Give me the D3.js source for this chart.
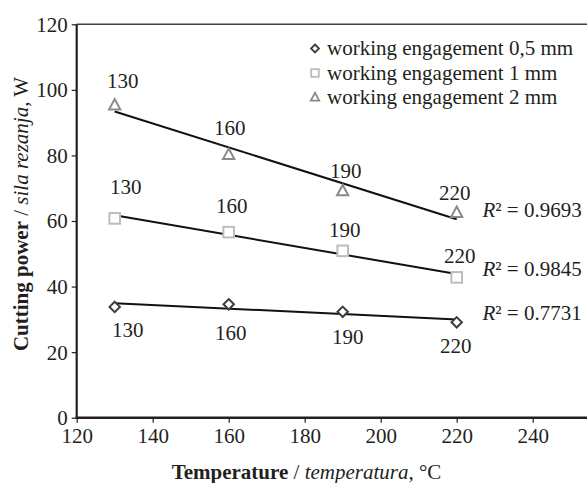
<!DOCTYPE html>
<html>
<head>
<meta charset="utf-8">
<script src="https://cdn.jsdelivr.net/npm/d3@7"></script>
<style>
  html, body { margin: 0; padding: 0; background: #fff; }
  svg { display: block; }
  text { font-family: "Liberation Serif", "Times New Roman", serif; fill: #231f20; }
</style>
</head>
<body>
<svg id="chart" width="587" height="483"></svg>
<script>
// Cutting power versus temperature for three working engagements
const temperatures = [130, 160, 190, 220];
const power05 = [33.8, 34.6, 32.3, 29.1];
const power1 = [60.8, 56.6, 50.9, 42.8];
const power2 = [95.5, 80.4, 69.3, 62.7];
const seriesNames = ["working engagement 0,5 mm", "working engagement 1 mm", "working engagement 2 mm"];
const rSquared = ["0.7731", "0.9845", "0.9693"];
const xTicks = [120, 140, 160, 180, 200, 220, 240];
const yTicks = [0, 20, 40, 60, 80, 100, 120];

// label placement (pixel nudges from each marker)
const labelDx = [[13, 2, 5, -1], [11, 3, 2, 3], [8, 1, 3, -2]];
const labelDy = [[30, 36, 32, 31], [-24, -19, -14, -14], [-17, -19, -13, -12]];
const rLabelY = [320, 275.5, 216.5];

const styles = [
  { shape: "diamond", color: "#3d3d3d" },
  { shape: "square", color: "#bdbdbd" },
  { shape: "triangle", color: "#8a8a8a" }
];
const seriesValues = [power05, power1, power2];

const svg = d3.select("#chart");
const FS = 21;

const x = d3.scaleLinear().domain([120, 260]).range([76.7, 608.7]);
const y = d3.scaleLinear().domain([0, 120]).range([417.7, 24.3]);

// frame: top border
svg.append("line")
  .attr("x1", x(120)).attr("x2", 587)
  .attr("y1", y(120)).attr("y2", y(120))
  .attr("stroke", "#404040").attr("stroke-width", 1.5);

// axes
const xAxis = d3.axisBottom(x).tickValues(xTicks).tickSize(5).tickSizeOuter(0).tickFormat(d3.format("d"));
const gx = svg.append("g").attr("transform", `translate(0,${y(0)})`).call(xAxis);
gx.select(".domain").remove();
gx.selectAll(".tick line").attr("stroke", "#231f20").attr("stroke-width", 1.2);
gx.selectAll(".tick text").attr("font-size", FS).attr("font-family", "Liberation Serif")
  .attr("fill", "#231f20").attr("y", 10).attr("dy", "0.71em");

const yAxis = d3.axisLeft(y).tickValues(yTicks).tickSize(5).tickSizeOuter(0).tickFormat(d3.format("d"));
const gy = svg.append("g").attr("transform", `translate(${x(120)},0)`).call(yAxis);
gy.select(".domain").remove();
gy.selectAll(".tick line").attr("stroke", "#231f20").attr("stroke-width", 1.2);
gy.selectAll(".tick text").attr("font-size", FS).attr("font-family", "Liberation Serif")
  .attr("fill", "#231f20").attr("x", -9).attr("dy", "0.33em");

svg.append("line")
  .attr("x1", x(120)).attr("x2", x(120))
  .attr("y1", y(120)).attr("y2", y(0) + 1.25)
  .attr("stroke", "#231f20").attr("stroke-width", 2.2);
svg.append("line")
  .attr("x1", x(120) - 1).attr("x2", 587)
  .attr("y1", y(0)).attr("y2", y(0))
  .attr("stroke", "#231f20").attr("stroke-width", 2.5);

// linear trendlines (least squares)
function fit(xs, ys) {
  const mx = d3.mean(xs), my = d3.mean(ys);
  const sxy = d3.sum(xs, (v, i) => (v - mx) * (ys[i] - my));
  const sxx = d3.sum(xs, v => (v - mx) * (v - mx));
  const b = sxy / sxx;
  return t => my + b * (t - mx);
}
seriesValues.forEach(vals => {
  const f = fit(temperatures, vals);
  const x0 = d3.min(temperatures), x1 = d3.max(temperatures);
  svg.append("line")
    .attr("x1", x(x0)).attr("y1", y(f(x0)))
    .attr("x2", x(x1)).attr("y2", y(f(x1)))
    .attr("stroke", "#111").attr("stroke-width", 2);
});

// marker shapes
function marker(g, shape, cx, cy, s, color, sw) {
  if (shape === "diamond") {
    g.append("path")
      .attr("d", `M${cx},${cy - s}L${cx + s},${cy}L${cx},${cy + s}L${cx - s},${cy}Z`)
      .attr("fill", "#fff").attr("stroke", color).attr("stroke-width", sw);
  } else if (shape === "square") {
    g.append("rect")
      .attr("x", cx - s).attr("y", cy - s).attr("width", 2 * s).attr("height", 2 * s)
      .attr("fill", "#fff").attr("stroke", color).attr("stroke-width", sw);
  } else {
    g.append("path")
      .attr("d", `M${cx},${cy - s}L${cx + s},${cy + s * 0.85}L${cx - s},${cy + s * 0.85}Z`)
      .attr("fill", "#fff").attr("stroke", color).attr("stroke-width", sw);
  }
}

const gm = svg.append("g");
seriesValues.forEach((vals, si) => {
  const st = styles[si];
  vals.forEach((v, i) => {
    const sz = st.shape === "diamond" ? 5.2 : (st.shape === "square" ? 5.3 : 5.6);
    marker(gm, st.shape, x(temperatures[i]), y(v), sz, st.color, 2);
    gm.append("text")
      .attr("x", x(temperatures[i]) + labelDx[si][i])
      .attr("y", y(v) + labelDy[si][i])
      .attr("text-anchor", "middle")
      .attr("font-size", FS)
      .text(temperatures[i]);
  });
});

// R² labels
rSquared.forEach((r, si) => {
  const t = svg.append("text").attr("x", 482.5).attr("y", rLabelY[si]).attr("font-size", FS);
  t.append("tspan").attr("font-style", "italic").text("R");
  t.append("tspan").text("² = " + r);
});

// legend
const legendY = [48.5, 73, 97];
seriesNames.forEach((name, si) => {
  const st = styles[si];
  const ly = legendY[si];
  marker(svg, st.shape, 315, ly, st.shape === "diamond" ? 4 : (st.shape === "triangle" ? 4.2 : 3.8), st.color, 1.8);
  svg.append("text").attr("x", 327).attr("y", ly).attr("dy", "0.33em")
    .attr("font-size", FS).text(name);
});

// axis titles
const yt = svg.append("text")
  .attr("transform", `translate(28,214) rotate(-90)`)
  .attr("text-anchor", "middle")
  .attr("font-size", FS);
yt.append("tspan").attr("font-weight", "bold").text("Cutting power");
yt.append("tspan").text(" / ");
yt.append("tspan").attr("font-style", "italic").text("sila rezanja");
yt.append("tspan").text(", W");

const xt = svg.append("text")
  .attr("x", 306.5).attr("y", 478.5)
  .attr("text-anchor", "middle")
  .attr("font-size", FS);
xt.append("tspan").attr("font-weight", "bold").text("Temperature");
xt.append("tspan").text(" / ");
xt.append("tspan").attr("font-style", "italic").text("temperatura");
xt.append("tspan").text(", °C");
</script>
</body>
</html>
